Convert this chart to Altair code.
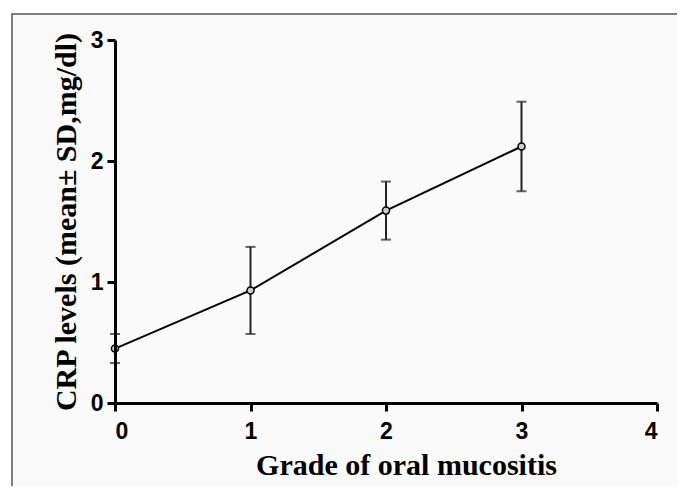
import altair as alt
import pandas as pd

grades = [0, 1, 2, 3]
means = [0.45, 0.93, 1.59, 2.12]
sds = [0.12, 0.36, 0.24, 0.37]

df = pd.DataFrame({"grade": grades, "mean": means, "sd": sds})
df["lo"] = df["mean"] - df["sd"]
df["hi"] = df["mean"] + df["sd"]

xscale = alt.Scale(domain=[0, 4], nice=False, zero=False)
yscale = alt.Scale(domain=[0, 3], nice=False)

xaxis = alt.Axis(values=[0, 1, 2, 3, 4], format="d", title="Grade of oral mucositis",
                 grid=False, domainColor="black", domainWidth=3, tickColor="black",
                 tickWidth=3, tickSize=8, labelFont="Liberation Sans", labelFontSize=23,
                 labelFontWeight="bold", labelColor="black", labelPadding=9,
                 titleFont="Liberation Serif", titleFontSize=30, titleFontWeight="bold",
                 titleColor="black", titlePadding=7, titleX=291, zindex=1)
yaxis = alt.Axis(values=[0, 1, 2, 3], format="d", title="CRP levels (mean\u00b1 SD,mg/dl)",
                 grid=False, domainColor="black", domainWidth=3, tickColor="black",
                 tickWidth=3, tickSize=8, labelFont="Liberation Sans", labelFontSize=23,
                 labelFontWeight="bold", labelColor="black", labelPadding=4,
                 titleFont="Liberation Serif", titleFontSize=30, titleFontWeight="bold",
                 titleColor="black", titlePadding=9, zindex=1)

base = alt.Chart(df)

frame = alt.Chart(pd.DataFrame({"a": [0]})).mark_rect(
    fill="#fafafa", stroke="#555555", strokeWidth=1.5, clip=False
).encode(x=alt.value(-103), x2=alt.value(568), y=alt.value(-26), y2=alt.value(480))

line = base.mark_line(color="black", strokeWidth=2).encode(
    x=alt.X("grade:Q", scale=xscale, axis=xaxis),
    y=alt.Y("mean:Q", scale=yscale, axis=yaxis),
)
rules = base.mark_rule(color="#222222", strokeWidth=2).encode(
    x="grade:Q", y="lo:Q", y2="hi:Q"
)
caps_hi = base.mark_tick(color="#222222", thickness=2, size=10, orient="horizontal").encode(
    x="grade:Q", y="hi:Q"
)
caps_lo = base.mark_tick(color="#222222", thickness=2, size=10, orient="horizontal").encode(
    x="grade:Q", y="lo:Q"
)
pts = base.mark_point(shape="circle", size=50, filled=True, fill="#cccccc",
                      stroke="black", strokeWidth=1.5, opacity=1).encode(
    x="grade:Q", y="mean:Q"
)

chart = alt.layer(frame, line, rules, caps_hi, caps_lo, pts).properties(
    width=542, height=363,
    autosize=alt.AutoSizeParams(type="none"),
    padding={"left": 107, "top": 32, "right": 20, "bottom": 83},
    background="white",
).configure_view(stroke=None)

chart.save("out.html", embed_options={"renderer": "svg", "actions": False})
